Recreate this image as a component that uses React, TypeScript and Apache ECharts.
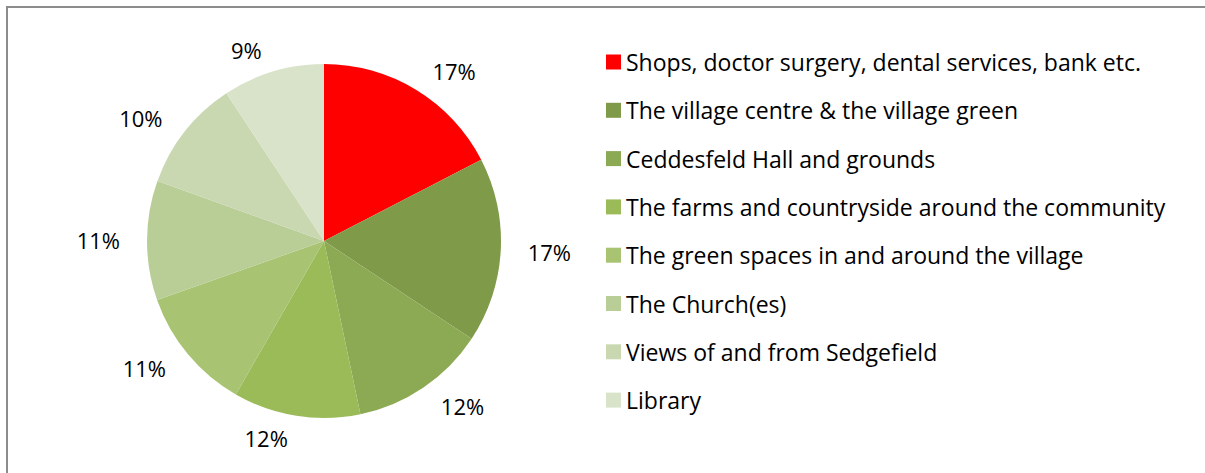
import React, { useEffect, useRef } from "react";
import * as echarts from "echarts";

const categories = [
  "Shops, doctor surgery, dental services, bank etc.",
  "The village centre & the village green",
  "Ceddesfeld Hall and grounds",
  "The farms and countryside around the community",
  "The green spaces in and around the village",
  "The Church(es)",
  "Views of and from Sedgefield",
  "Library",
];
const shares = [17.4, 16.9, 12.4, 11.6, 11.3, 10.9, 10.2, 9.3];
const colors = ["#FF0000", "#7F9A48", "#8CA953", "#9BBB59", "#A8C472", "#B9CD96", "#C9D8B1", "#D9E3CA"];

const FONT = "'Open Sans', sans-serif";

export default function App() {
  const ref = useRef<HTMLDivElement>(null);
  useEffect(() => {
    document.body.style.margin = "0";
    const chart = echarts.init(ref.current!, null, { renderer: "svg" });
    const data = categories.map((name, i) => ({ name, value: shares[i], itemStyle: { color: colors[i] } }));
    chart.setOption({
      animation: false,
      backgroundColor: "#ffffff",
      graphic: [
        {
          type: "rect",
          shape: { x: 7, y: 7, width: 1300, height: 600 },
          style: { fill: "none", stroke: "#8c8c8c", lineWidth: 2 },
          silent: true,
        },
      ],
      legend: {
        orient: "vertical",
        left: 601,
        top: 45,
        itemWidth: 15,
        itemHeight: 15,
        itemGap: 24.3,
        icon: "rect",
        data: categories,
        selectedMode: false,
        textStyle: { fontFamily: FONT, fontSize: 23, color: "#000", lineHeight: 24 },
      },
      series: [
        {
          type: "pie",
          center: [324, 241],
          radius: 177,
          startAngle: 90,
          clockwise: true,
          silent: true,
          avoidLabelOverlap: false,
          label: {
            show: true,
            position: "outside",
            distanceToLabelLine: 5,
            fontFamily: FONT,
            fontSize: 22,
            color: "#000",
            formatter: (p: any) => Math.round(p.percent) + "%",
          },
          labelLine: { show: false, length: 22, length2: 0 },
          data,
        },
      ],
    });
    return () => chart.dispose();
  }, []);
  return <div ref={ref} style={{ position: "absolute", left: 0, top: 0, width: 1205, height: 473 }} />;
}
